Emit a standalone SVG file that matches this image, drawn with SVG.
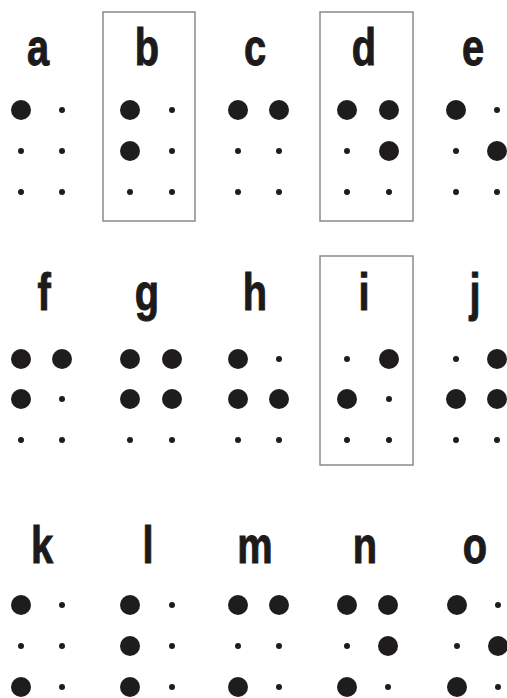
<svg xmlns="http://www.w3.org/2000/svg" width="507" height="698" viewBox="0 0 507 698">
<style>
.lt{font-family:"Liberation Sans",Arial,sans-serif;font-weight:bold;font-size:51px;fill:#1c1a1b;stroke:#1c1a1b;stroke-width:1;text-anchor:middle}
.B{fill:#1f1c1e}
.s{fill:#1f1c1e}
.box{fill:none;stroke:#8a8a8a;stroke-width:1.5}
</style>
<defs>
<circle id="big" r="10" class="B"/>
<circle id="sm" r="3" class="s"/>
</defs>
<rect width="507" height="698" fill="#fff"/>
<g id="frames">
<rect class="box" x="103" y="12" width="92" height="209"/>
<rect class="box" x="320" y="12" width="93" height="209"/>
<rect class="box" x="320" y="256" width="93" height="209"/>
</g>
<g id="a"><text class="lt" transform="translate(38,65) scale(0.78,1)">a</text>
<use href="#big" x="21" y="110"/><use href="#sm" x="62" y="110"/>
<use href="#sm" x="21" y="151"/><use href="#sm" x="62" y="151"/>
<use href="#sm" x="21" y="192"/><use href="#sm" x="62" y="192"/></g>
<g id="b"><text class="lt" transform="translate(147,65) scale(0.78,1)">b</text>
<use href="#big" x="130" y="110"/><use href="#sm" x="172" y="110"/>
<use href="#big" x="130" y="151"/><use href="#sm" x="172" y="151"/>
<use href="#sm" x="130" y="192"/><use href="#sm" x="172" y="192"/></g>
<g id="c"><text class="lt" transform="translate(255,65) scale(0.78,1)">c</text>
<use href="#big" x="238" y="110"/><use href="#big" x="279" y="110"/>
<use href="#sm" x="238" y="151"/><use href="#sm" x="279" y="151"/>
<use href="#sm" x="238" y="192"/><use href="#sm" x="279" y="192"/></g>
<g id="d"><text class="lt" transform="translate(364,65) scale(0.78,1)">d</text>
<use href="#big" x="347" y="110"/><use href="#big" x="389" y="110"/>
<use href="#sm" x="347" y="151"/><use href="#big" x="389" y="151"/>
<use href="#sm" x="347" y="192"/><use href="#sm" x="389" y="192"/></g>
<g id="e"><text class="lt" transform="translate(473,65) scale(0.78,1)">e</text>
<use href="#big" x="456" y="110"/><use href="#sm" x="497" y="110"/>
<use href="#sm" x="456" y="151"/><use href="#big" x="497" y="151"/>
<use href="#sm" x="456" y="192"/><use href="#sm" x="497" y="192"/></g>

<g id="f"><text class="lt" transform="translate(44,310) scale(0.78,1)">f</text>
<use href="#big" x="21" y="359"/><use href="#big" x="62" y="359"/>
<use href="#big" x="21" y="399"/><use href="#sm" x="62" y="399"/>
<use href="#sm" x="21" y="440"/><use href="#sm" x="62" y="440"/></g>
<g id="g"><text class="lt" transform="translate(147,310) scale(0.78,1)">g</text>
<use href="#big" x="130" y="359"/><use href="#big" x="172" y="359"/>
<use href="#big" x="130" y="399"/><use href="#big" x="172" y="399"/>
<use href="#sm" x="130" y="440"/><use href="#sm" x="172" y="440"/></g>
<g id="h"><text class="lt" transform="translate(255,310) scale(0.78,1)">h</text>
<use href="#big" x="238" y="359"/><use href="#sm" x="279" y="359"/>
<use href="#big" x="238" y="399"/><use href="#big" x="279" y="399"/>
<use href="#sm" x="238" y="440"/><use href="#sm" x="279" y="440"/></g>
<g id="i"><text class="lt" transform="translate(364,310) scale(0.78,1)">i</text>
<use href="#sm" x="347" y="359"/><use href="#big" x="389" y="359"/>
<use href="#big" x="347" y="399"/><use href="#sm" x="389" y="399"/>
<use href="#sm" x="347" y="440"/><use href="#sm" x="389" y="440"/></g>
<g id="j"><text class="lt" transform="translate(475,310) scale(0.78,1)">j</text>
<use href="#sm" x="456" y="359"/><use href="#big" x="497" y="359"/>
<use href="#big" x="456" y="399"/><use href="#big" x="497" y="399"/>
<use href="#sm" x="456" y="440"/><use href="#sm" x="497" y="440"/></g>

<g id="k"><text class="lt" transform="translate(42,563) scale(0.78,1)">k</text>
<use href="#big" x="21" y="605"/><use href="#sm" x="62" y="605"/>
<use href="#sm" x="21" y="646"/><use href="#sm" x="62" y="646"/>
<use href="#big" x="21" y="687"/><use href="#sm" x="62" y="687"/></g>
<g id="l"><text class="lt" transform="translate(148,563) scale(0.78,1)">l</text>
<use href="#big" x="130" y="605"/><use href="#sm" x="172" y="605"/>
<use href="#big" x="130" y="646"/><use href="#sm" x="172" y="646"/>
<use href="#big" x="130" y="687"/><use href="#sm" x="172" y="687"/></g>
<g id="m"><text class="lt" transform="translate(255,563) scale(0.78,1)">m</text>
<use href="#big" x="238" y="605"/><use href="#big" x="279" y="605"/>
<use href="#sm" x="238" y="646"/><use href="#sm" x="279" y="646"/>
<use href="#big" x="238" y="687"/><use href="#sm" x="279" y="687"/></g>
<g id="n"><text class="lt" transform="translate(365,563) scale(0.78,1)">n</text>
<use href="#big" x="347" y="605"/><use href="#big" x="388" y="605"/>
<use href="#sm" x="347" y="646"/><use href="#big" x="388" y="646"/>
<use href="#big" x="347" y="687"/><use href="#sm" x="388" y="687"/></g>
<g id="o"><text class="lt" transform="translate(475,563) scale(0.78,1)">o</text>
<use href="#big" x="457" y="605"/><use href="#sm" x="498" y="605"/>
<use href="#sm" x="457" y="646"/><use href="#big" x="498" y="646"/>
<use href="#big" x="457" y="687"/><use href="#sm" x="498" y="687"/></g>
</svg>
